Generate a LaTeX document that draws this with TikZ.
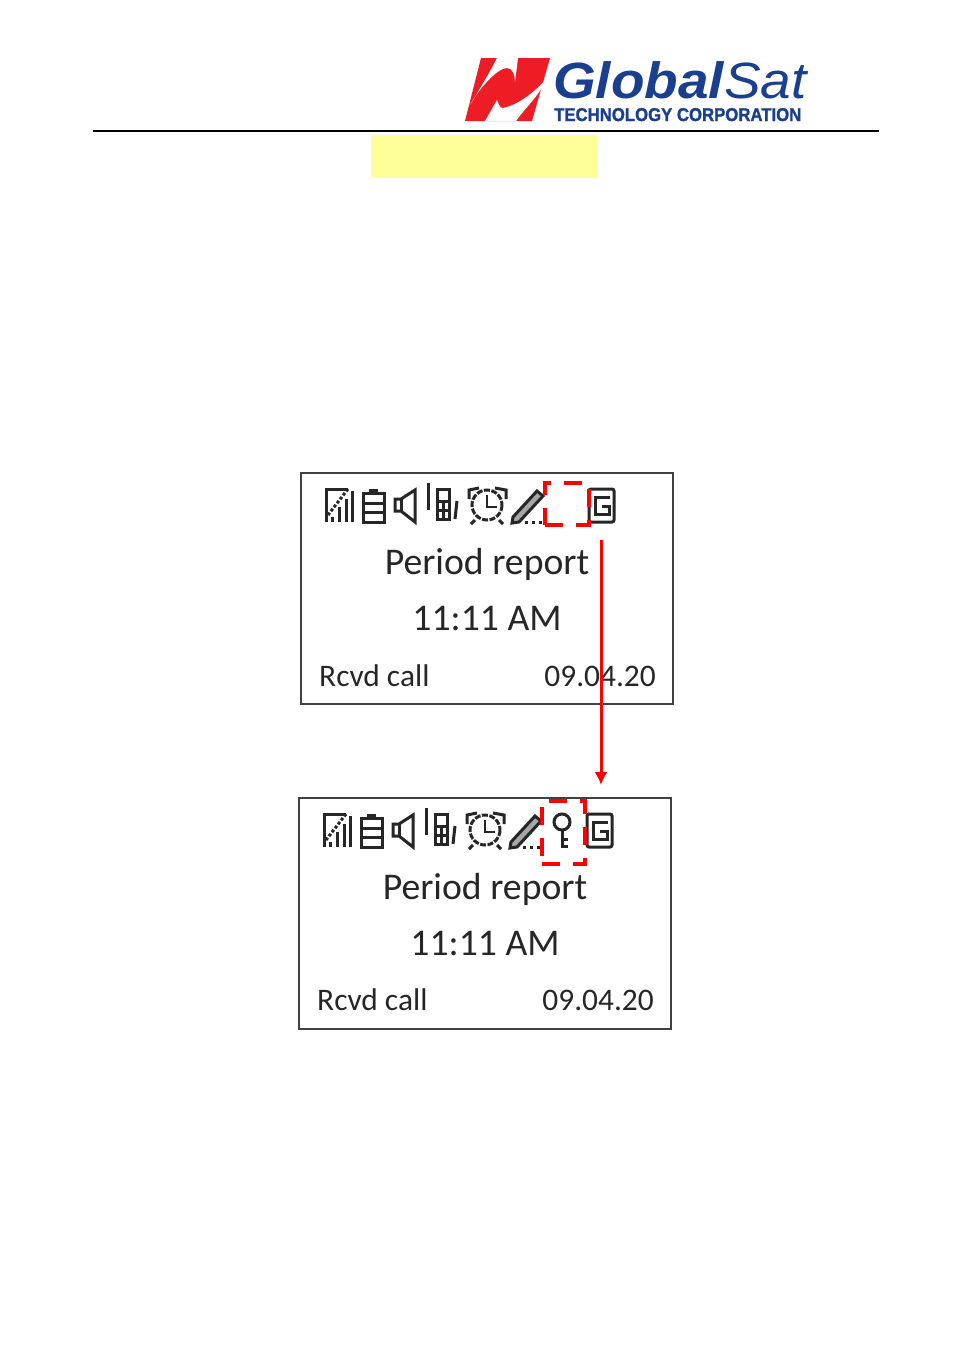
\documentclass[tikz,border=0pt]{standalone}
\usepackage{fontspec}
\usetikzlibrary{arrows.meta}
\setmainfont{Carlito}
\newfontfamily\logofont[BoldFeatures={FakeBold=1.5}]{Liberation Sans}
\definecolor{logoblue}{HTML}{1B3F8F}
\definecolor{logored}{HTML}{EE1C25}
\definecolor{hiliteyellow}{HTML}{FFFF99}
\tikzset{
  framebox/.style={draw=black!75, line width=1.7pt, minimum width=372pt, minimum height=231pt, inner sep=0pt, outer sep=0pt, anchor=north west},
  icon/.style={black!85, line width=3pt},
  redbox/.style={draw=red, line width=3.5pt, dash pattern=on 18pt off 13pt, inner sep=0pt, outer sep=0pt, anchor=north west},
  title/.style={font=\fontsize{37.7pt}{37.7pt}\selectfont, black!85, inner sep=0pt},
  status/.style={font=\fontsize{31.4pt}{31.4pt}\selectfont, black!85, inner sep=0pt},
}
% icon row, drawn from the top left corner of the screen
\newcommand{\iconrow}{
    % signal
    \draw[icon] (25,49) -- (25,16) -- (47,16);
    \draw[icon, dash pattern=on 3pt off 2pt] (47,16) -- (27,42);
    \foreach \xs/\ys in {31/44,38/34,45/26,51/18}
    \draw[icon] (\xs,49) -- (\xs,\ys);
    % battery
    \draw[icon] (62,20) rectangle (83,49);
    \draw[icon] (62,30) -- (83,30);
    \draw[icon] (62,39) -- (83,39);
    \draw[icon] (68,17) -- (77,17);
    % speaker
    \draw[icon] (94,26) -- (100,26) -- (114,17) -- (114,49) -- (100,38) -- (94,38) -- cycle;
    \draw[icon] (100,26) -- (100,38);
    % phone
    \draw[icon] (127,10) -- (127,37);
    \draw[icon] (136,16) rectangle (148,46);
    \draw[icon] (136,28) -- (148,28);
    \draw[icon] (136,37) -- (148,37);
    \draw[icon] (142,28) -- (142,46);
    \draw[icon] (156,28) -- (154,46);
    % clock
    \draw[icon, dash pattern=on 6pt off 1.5pt] (186,32) circle (15);
    \draw[icon, line width=2.5pt] (186,22) -- (186,34) -- (196,34);
    \draw[icon] (168,26) -- (168,17) -- (178,15);
    \draw[icon] (194,15) -- (205,17) -- (205,26);
    \draw[icon] (174,47) -- (170,51);
    \draw[icon] (198,47) -- (202,51);
    % pencil
    \draw[icon, fill=black!35] (212,44) -- (236,18) -- (242,23) -- (218,49) -- (211,50) -- cycle;
    \draw[icon, dash pattern=on 3pt off 4pt] (224,49) -- (243,49);
    % G
    \draw[icon, rounded corners=2pt] (288,16) rectangle (313,49);
    \draw[icon] (309,24) -- (294,24) -- (294,41) -- (308,41) -- (308,33) -- (301,33);
}
\begin{document}
\begin{tikzpicture}[x=1pt,y=-1pt]
    \useasboundingbox (0,0) rectangle (953,1352);
    % header
    \fill[logored] (465,121) -- (481,58) -- (550,58) -- (532,121) -- cycle;
    \fill[white] (497,58) .. controls (490,72) and (478,92) .. (470,105) .. controls (478,90) and (497,68) .. (507,68) .. controls (513,68) and (515,76) .. (515,82) -- (518,58) -- cycle;
    \fill[white] (485,121) -- (497,100) .. controls (499,105) and (500,108) .. (503,108) .. controls (518,105) and (535,92) .. (547,78) .. controls (540,95) and (525,108) .. (516,121) -- cycle;
    \node[inner sep=0pt, anchor=base west, logoblue, xscale=1.077] (logoname) at (553,98)
      {\logofont\fontsize{51pt}{51pt}\selectfont\bfseries\itshape Global\mdseries Sat};
    \node[inner sep=0pt, anchor=base west, logoblue, xscale=.905] (logosub) at (554,121)
      {\logofont\fontsize{18.5pt}{18.5pt}\selectfont\bfseries TECHNOLOGY CORPORATION};
    \draw[line width=2pt] (93,131) -- (879,131);
    \fill[hiliteyellow] (371,135) rectangle (598,178);
    % first screen
    \begin{scope}[shift={(301,473)}]
    \node[framebox] (screena) at (0,0) {};
    \iconrow
    \node[title] (perioda) at (186,91) {Period report};
    \node[title] (timea) at (186,146) {11:11 AM};
    \node[status, anchor=base west] (calla) at (18,213) {Rcvd call};
    \node[status, anchor=base east] (datea) at (355,213) {09.04.20};
    \end{scope}
    % second screen
    \begin{scope}[shift={(299,798)}]
    \node[framebox] (screenb) at (0,0) {};
    \iconrow
    % key
    \draw[icon] (263,24) circle (8);
    \draw[icon] (263,32) -- (263,50);
    \draw[icon] (263,41) -- (269,41);
    \draw[icon] (263,48) -- (269,48);
    \node[title] (periodb) at (186,91) {Period report};
    \node[title] (timeb) at (186,146) {11:11 AM};
    \node[status, anchor=base west] (callb) at (18,212) {Rcvd call};
    \node[status, anchor=base east] (dateb) at (355,212) {09.04.20};
    \end{scope}
    % dashed marks
    \node[redbox, minimum width=44pt, minimum height=42pt] (gapa) at (545,483) {};
    \node[redbox, minimum width=43pt, minimum height=63pt] (gapb) at (542,801) {};
    \coordinate (arrowtop) at (601,540);
    \coordinate (arrowend) at (601,785);
    \draw[-{Latex[length=13pt,width=13pt]}, red, line width=3pt] (arrowtop) -- (arrowend);
\end{tikzpicture}
\end{document}
